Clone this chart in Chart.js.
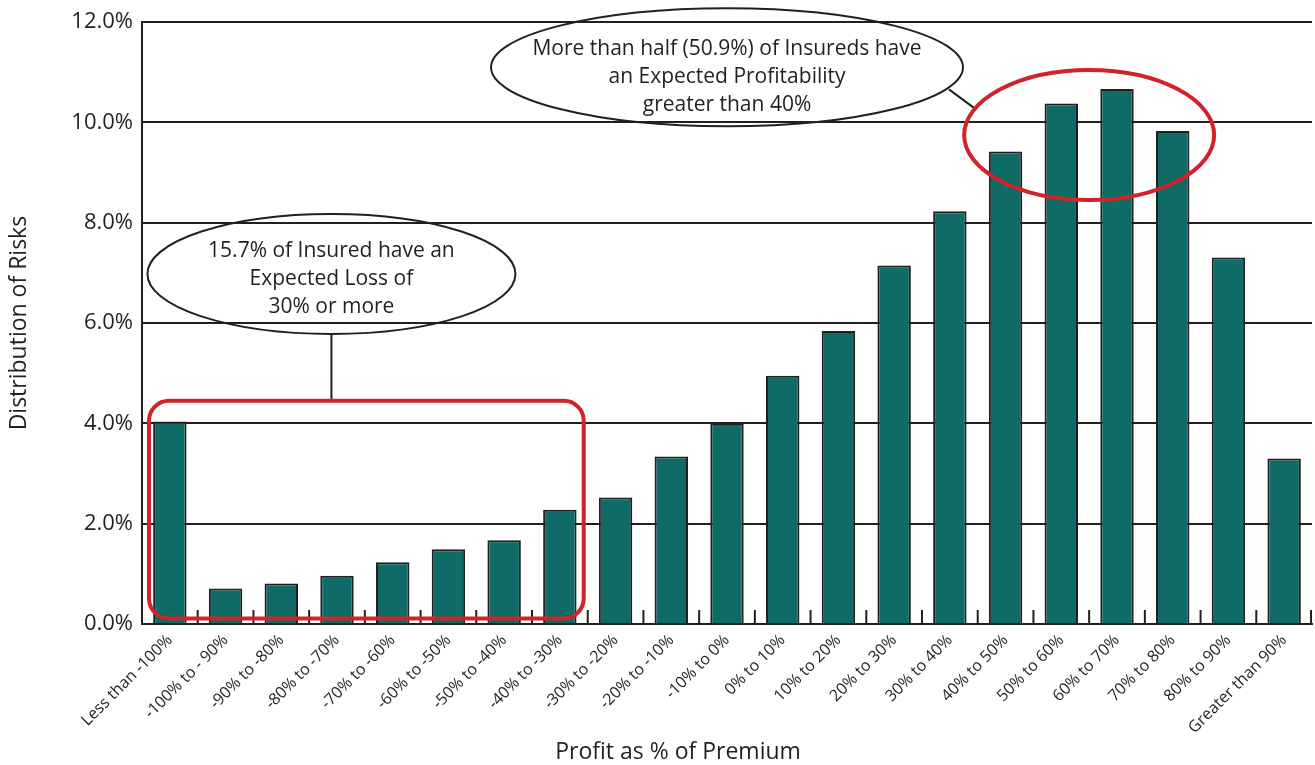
<!DOCTYPE html>
<html>
<head>
<meta charset="utf-8">
<script src="https://cdn.jsdelivr.net/npm/chart.js@4"></script>
<style>
  html, body { margin: 0; padding: 0; background: #fff; }
  #wrap { width: 1315px; height: 765px; }
</style>
</head>
<body>
<div id="wrap"><canvas id="profitChart"></canvas></div>
<script>
// Profit distribution data
const categories = ['Less than -100%', '-100% to - 90%', '-90% to -80%', '-80% to -70%', '-70% to -60%',
  '-60% to -50%', '-50% to -40%', '-40% to -30%', '-30% to -20%', '-20% to -10%', '-10% to 0%',
  '0% to 10%', '10% to 20%', '20% to 30%', '30% to 40%', '40% to 50%', '50% to 60%',
  '60% to 70%', '70% to 80%', '80% to 90%', 'Greater than 90%'];
const riskShare = [4.04, 0.71, 0.81, 0.96, 1.23, 1.49, 1.67, 2.28, 2.52, 3.34, 4.01,
  4.95, 5.84, 7.15, 8.23, 9.42, 10.38, 10.67, 9.83, 7.31, 3.30];
const yTicks = [0, 2, 4, 6, 8, 10, 12];
const lossNote = ['15.7% of Insured have an', 'Expected Loss of', '30% or more'];
const profitNote = ['More than half (50.9%) of Insureds have', 'an Expected Profitability', 'greater than 40%'];

const ink = '#231f20';
const red = '#d1232a';
const font = '"Open Sans", "Noto Sans", sans-serif';

function ellipse(ctx, cx, cy, rx, ry) {
  ctx.beginPath();
  ctx.ellipse(cx, cy, rx, ry, 0, 0, Math.PI * 2);
  ctx.stroke();
}

function lines(ctx, text, cx, cy, gap) {
  const start = cy - gap * (text.length - 1) / 2;
  text.forEach((t, i) => ctx.fillText(t, cx, start + i * gap));
}

// inner tick marks, callouts and x title
const overlay = {
  id: 'overlay',
  afterDatasetsDraw(chart) {
    const { ctx, chartArea, scales: { x, y } } = chart;
    const step = x.getPixelForValue(1) - x.getPixelForValue(0);
    const half = step / 2;

    ctx.save();
    ctx.strokeStyle = ink;
    ctx.lineWidth = 2;
    for (let i = 1; i <= categories.length; i++) {
      const px = Math.min(x.getPixelForValue(i) - half, chartArea.right - 1);
      ctx.beginPath();
      ctx.moveTo(px, chartArea.bottom);
      ctx.lineTo(px, chartArea.bottom - 14);
      ctx.stroke();
    }

    // loss callout
    const lx = x.getPixelForValue(2.9);
    const ly = y.getPixelForValue(6.98);
    ellipse(ctx, lx, ly, 184, 60);
    const boxTop = y.getPixelForValue(4.45);
    ctx.beginPath();
    ctx.moveTo(lx, ly + 60);
    ctx.lineTo(lx, boxTop);
    ctx.stroke();

    // profit callout
    const px = x.getPixelForValue(10);
    const py = y.getPixelForValue(11.1);
    ellipse(ctx, px, py, 236, 59);
    ctx.beginPath();
    ctx.moveTo(px + 222, py + 22);
    ctx.lineTo(px + 249, py + 42);
    ctx.stroke();

    ctx.fillStyle = ink;
    ctx.font = '21px ' + font;
    ctx.textAlign = 'center';
    ctx.textBaseline = 'middle';
    lines(ctx, lossNote, lx, ly + 5, 28);
    lines(ctx, profitNote, px, py + 10, 28);

    // red highlights
    ctx.strokeStyle = red;
    ctx.lineWidth = 4;
    ctx.beginPath();
    ctx.roundRect(x.getPixelForValue(0) - half + 7, boxTop,
      x.getPixelForValue(7) + half - 4 - (x.getPixelForValue(0) - half + 7),
      y.getPixelForValue(0.11) - boxTop, 20);
    ctx.stroke();
    ellipse(ctx, (x.getPixelForValue(16) + x.getPixelForValue(17)) / 2, y.getPixelForValue(9.75), 125, 65);

    ctx.fillStyle = ink;
    ctx.font = '23px ' + font;
    ctx.fillText('Profit as % of Premium', (chartArea.left + chartArea.right) / 2 - 49, 752);
    ctx.restore();
  }
};

new Chart(document.getElementById('profitChart').getContext('2d'), {
  type: 'bar',
  data: {
    labels: categories,
    datasets: [{
      data: riskShare,
      backgroundColor: '#0e6b66',
      borderColor: ink,
      borderWidth: 2,
      barPercentage: 0.6,
      categoryPercentage: 1
    }]
  },
  options: {
    responsive: true,
    maintainAspectRatio: false,
    animation: false,
    layout: { padding: { top: 20, right: 3 } },
    plugins: { legend: { display: false }, tooltip: { enabled: false } },
    scales: {
      x: {
        grid: { drawOnChartArea: false, drawTicks: false },
        border: { color: ink, width: 2 },
        ticks: {
          color: ink,
          font: { family: font, size: 16 },
          minRotation: 45,
          maxRotation: 45,
          autoSkip: false,
          padding: 7
        },
        afterFit(scale) { scale.height = 141; }
      },
      y: {
        min: 0,
        max: 12,
        afterBuildTicks(scale) { scale.ticks = yTicks.map(v => ({ value: v })); },
        grid: { color: ink, lineWidth: 2, drawTicks: false },
        border: { color: ink, width: 2 },
        ticks: {
          color: ink,
          font: { family: font, size: 22 },
          padding: 9,
          callback: v => v.toFixed(1) + '%'
        },
        title: {
          display: true,
          text: 'Distribution of Risks',
          color: ink,
          font: { family: font, size: 23 },
          padding: { top: 6 }
        },
        afterFit(scale) { scale.width = 142; }
      }
    }
  },
  plugins: [overlay]
});
</script>
</body>
</html>
